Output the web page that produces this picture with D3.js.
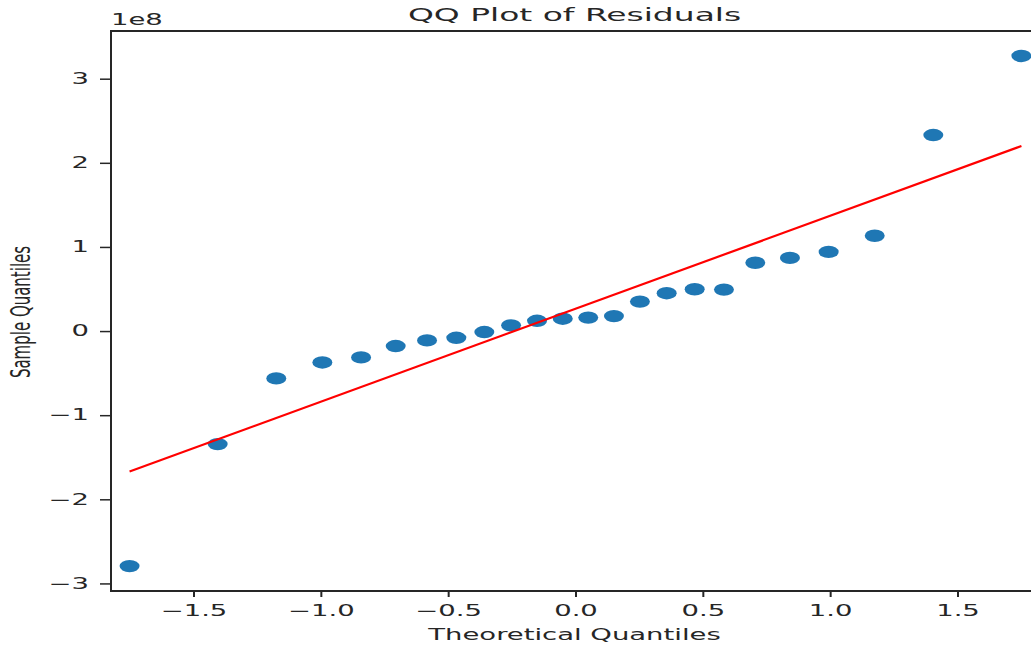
<!DOCTYPE html>
<html>
<head>
<meta charset="utf-8">
<script src="https://cdn.jsdelivr.net/npm/d3@7"></script>
<style>
  html, body { margin: 0; padding: 0; background: #fff; }
  svg { display: block; }
  text { font-family: "DejaVu Sans", sans-serif; fill: #262626; }
</style>
</head>
<body>
<svg id="chart" width="1031" height="647"></svg>
<script>
// ---- data ----
const theoretical = [-1.751, -1.405, -1.175, -0.994, -0.842, -0.706, -0.583, -0.468,
                     -0.358, -0.253, -0.151, -0.050, 0.050, 0.151, 0.253, 0.358,
                     0.468, 0.583, 0.706, 0.842, 0.994, 1.175, 1.405, 1.751];
const sample = [-2.794e8, -1.344e8, -0.563e8, -0.373e8, -0.313e8, -0.178e8, -0.111e8, -0.080e8,
                -0.012e8, 0.068e8, 0.122e8, 0.147e8, 0.160e8, 0.178e8, 0.350e8, 0.450e8,
                0.497e8, 0.493e8, 0.812e8, 0.870e8, 0.941e8, 1.133e8, 2.330e8, 3.270e8];
const fitX = [-1.751, 1.751];
const fitY = [-1.67e8, 2.20e8];
const xTicks = [-1.5, -1.0, -0.5, 0.0, 0.5, 1.0, 1.5];
const yTicks = [-3e8, -2e8, -1e8, 0, 1e8, 2e8, 3e8];
const titleText = "QQ Plot of Residuals";
const xLabel = "Theoretical Quantiles";
const yLabel = "Sample Quantiles";
const offsetText = "1e8";

// ---- layout ----
const SX = 1.83;           // horizontal stretch of the reference image
const mLeft = 111, mRight = 1040, mTop = 31, mBottom = 591;
const svg = d3.select("#chart");

const x = d3.scaleLinear().domain([-1.824, 1.824]).range([mLeft, mRight]);
const y = d3.scaleLinear().domain([-3.09e8, 3.567e8]).range([mBottom, mTop]);

// points
svg.append("g").selectAll("ellipse")
  .data(theoretical.map((t, i) => [t, sample[i]]))
  .join("ellipse")
  .attr("cx", d => x(d[0]))
  .attr("cy", d => y(d[1]))
  .attr("rx", 10)
  .attr("ry", 6.2)
  .attr("fill", "#1f77b4");

// fit line
svg.append("path")
  .datum(fitX.map((v, i) => [v, fitY[i]]))
  .attr("d", d3.line().x(d => x(d[0])).y(d => y(d[1])))
  .attr("fill", "none")
  .attr("stroke", "#ff0000")
  .attr("stroke-width", 2.2);

// x axis
const xAxis = svg.append("g")
  .attr("transform", `translate(0,${mBottom})`)
  .call(d3.axisBottom(x).tickValues(xTicks).tickFormat(d3.format(".1f")).tickSize(6).tickPadding(8));
xAxis.select(".domain").remove();
xAxis.selectAll(".tick line").attr("stroke", "#262626").attr("stroke-width", 2);
xAxis.selectAll(".tick text")
  .attr("font-size", 15)
  .attr("transform", `scale(${SX},1)`);

// y axis
const yAxis = svg.append("g")
  .attr("transform", `translate(${mLeft},0)`)
  .call(d3.axisLeft(y).tickValues(yTicks).tickFormat(d => d3.format("d")(d / 1e8)).tickSize(11).tickPadding(0));
yAxis.select(".domain").remove();
yAxis.selectAll(".tick line").attr("stroke", "#262626").attr("stroke-width", 1.5);
yAxis.selectAll(".tick text")
  .attr("font-size", 15)
  .attr("x", -22 / SX)
  .attr("transform", `scale(${SX},1)`);

// frame (spines)
svg.append("rect")
  .attr("x", mLeft).attr("y", mTop)
  .attr("width", mRight - mLeft).attr("height", mBottom - mTop)
  .attr("fill", "none")
  .attr("stroke", "#262626")
  .attr("stroke-width", 2);

// offset text
svg.append("text")
  .attr("transform", `translate(${mLeft},25) scale(${SX},1)`)
  .attr("font-size", 15)
  .text(offsetText);

// title
svg.append("text")
  .attr("transform", `translate(${(mLeft + mRight) / 2 - 1},21) scale(${SX},1)`)
  .attr("text-anchor", "middle")
  .attr("font-size", 18)
  .text(titleText);

// x label
svg.append("text")
  .attr("transform", `translate(${(mLeft + mRight) / 2 - 1},640) scale(${SX},1)`)
  .attr("text-anchor", "middle")
  .attr("font-size", 15)
  .text(xLabel);

// y label
svg.append("text")
  .attr("transform", `translate(30,312) scale(${SX},1) rotate(-90)`)
  .attr("text-anchor", "middle")
  .attr("font-size", 15)
  .text(yLabel);
</script>
</body>
</html>
